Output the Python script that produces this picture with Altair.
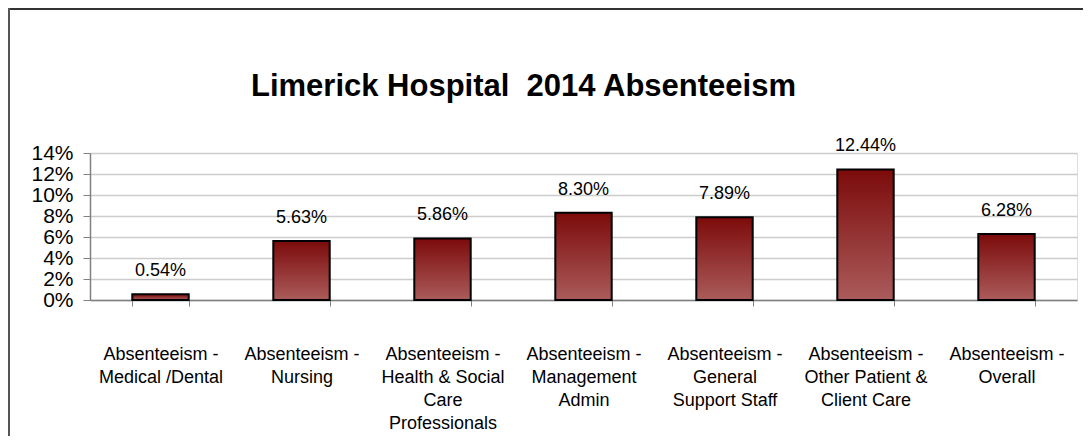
import altair as alt
import pandas as pd

categories = [
    "Absenteeism -\nMedical /Dental",
    "Absenteeism -\nNursing",
    "Absenteeism -\nHealth & Social\nCare\nProfessionals",
    "Absenteeism -\nManagement\nAdmin",
    "Absenteeism -\nGeneral\nSupport Staff",
    "Absenteeism -\nOther Patient &\nClient Care",
    "Absenteeism -\nOverall",
]
values = [0.0054, 0.0563, 0.0586, 0.0830, 0.0789, 0.1244, 0.0628]
y_ticks = [0, 0.02, 0.04, 0.06, 0.08, 0.10, 0.12, 0.14]
title_text = ["Limerick Hospital\u00a0 2014 Absenteeism"]

df = pd.DataFrame({"cat": categories, "val": values})
tdf = pd.DataFrame({"t": title_text})

FONT = "Liberation Sans"
W, H = 987, 147

x_enc = alt.X(
    "cat:N", sort=categories, title=None,
    scale=alt.Scale(paddingInner=0.6, paddingOuter=0.3),
    axis=alt.Axis(
        labelAngle=0, labelExpr="split(datum.label, '\\n')",
        labelFont=FONT, labelFontSize=18, labelLineHeight=23,
        labelColor="#000000", labelPadding=39, labelLimit=300,
        labelOverlap=False,
        tickBand="extent", tickSize=6, tickColor="#808080",
        domainColor="#808080", domainWidth=1.5, grid=False,
    ),
)
y_enc = alt.Y(
    "val:Q", title=None,
    scale=alt.Scale(domain=[0, 0.14], nice=False, zero=True),
    axis=alt.Axis(
        values=y_ticks, format=".0%", labelFont=FONT, labelFontSize=21,
        labelColor="#000000", labelPadding=10, tickSize=7, tickColor="#808080",
        labelOverlap=False, labelFlush=False, tickCount=8,
        domainColor="#808080", domainWidth=1.5,
        gridColor="#cccccc", gridWidth=1.5,
    ),
)

base = alt.Chart(df).encode(x=x_enc, y=y_enc)

bars = base.mark_bar(
    color=alt.Gradient(
        gradient="linear", x1=0, x2=0, y1=0, y2=1,
        stops=[alt.GradientStop(offset=0, color="#7c0b0b"),
               alt.GradientStop(offset=1, color="#ab5b5b")],
    ),
    stroke="#000000", strokeWidth=2,
)

labels = base.mark_text(
    font=FONT, fontSize=18, color="#000000", baseline="middle", dy=-23,
).encode(text=alt.Text("val:Q", format=".2%"))

title = alt.Chart(tdf).mark_text(
    font=FONT, fontSize=31, fontWeight="bold", color="#000000",
    baseline="middle", align="center",
).encode(x=alt.value(W / 2 - 60), y=alt.value(-66), text="t:N")

border_top = alt.Chart(tdf).mark_rule(color="#333333", strokeWidth=2).encode(
    x=alt.value(-82), x2=alt.value(W + 10), y=alt.value(-144))
border_left = alt.Chart(tdf).mark_rule(color="#555555", strokeWidth=2).encode(
    x=alt.value(-81), y=alt.value(-145), y2=alt.value(H + 140))

chart = alt.layer(bars, labels, title, border_top, border_left).properties(
    width=W, height=H,
    padding={"left": 82, "top": 145, "right": 6, "bottom": 136},
    autosize=alt.AutoSizeParams(type="none"),
).configure_view(stroke=None).configure(background="#ffffff")

chart.save("out.html", embed_options={"renderer": "svg", "actions": False})
